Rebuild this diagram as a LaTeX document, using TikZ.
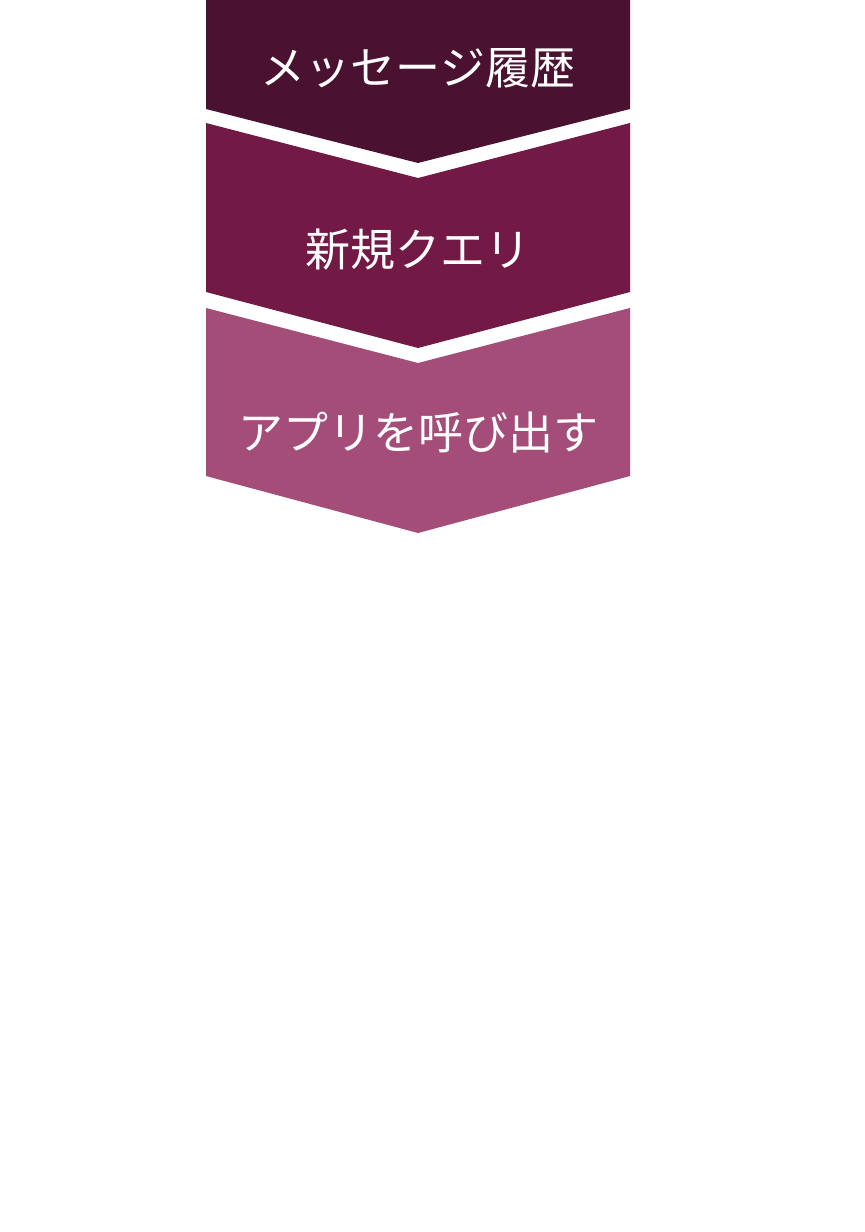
\documentclass[tikz,border=0pt]{standalone}
\usepackage{fontspec}
\newfontfamily\jpfont{Noto Sans CJK JP}
\usetikzlibrary{positioning}
\definecolor{ciruelaOscuro}{HTML}{4A1230}
\definecolor{ciruelaMedio}{HTML}{721945}
\definecolor{ciruelaClaro}{HTML}{A34D78}
\tikzstyle{Etiqueta}=[text=white, font=\jpfont\fontsize{22.5pt}{27pt}\selectfont, inner sep=0pt]

\begin{document}
\begin{tikzpicture}[x=0.5pt, y=-0.5pt]
	\useasboundingbox (0,0) rectangle (864,1232);
	%Flechas
	\fill[ciruelaOscuro] (206,0) -- (630,0) -- (630,109) -- (418,163) -- (206,109) -- cycle;
	\fill[ciruelaMedio] (206,123) -- (418,178) -- (630,123) -- (630,292) -- (418,348) -- (206,292) -- cycle;
	\fill[ciruelaClaro] (206,308) -- (418,363) -- (630,308) -- (630,476) -- (418,533) -- (206,476) -- cycle;

	%Textos
	\node[Etiqueta] (historial) at (418,68) {メッセージ履歴};
	\node[Etiqueta] (consulta) at (418,250) {新規クエリ};
	\node[Etiqueta] (llamada) at (418,433) {アプリを呼び出す};
\end{tikzpicture}
\end{document}
